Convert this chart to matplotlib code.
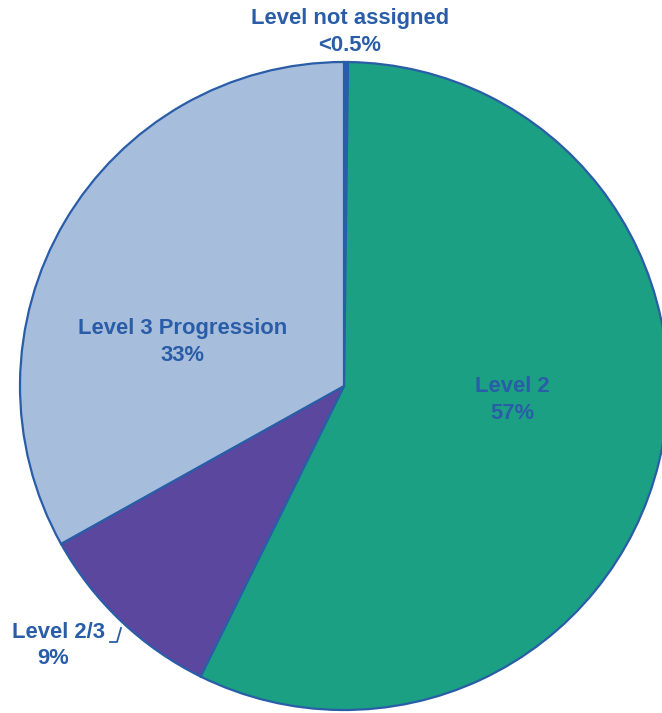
import matplotlib.pyplot as plt

labels = ["Level not assigned", "Level 2", "Level 2/3", "Level 3 Progression"]
values = [0.2, 57.1, 9.6, 33.1]
pct_text = ["<0.5%", "57%", "9%", "33%"]
colors = ["#2A5DA8", "#1BA084", "#5B479D", "#A7BDDC"]
edge = "#2A5DA8"
txt = "#2A5DA8"

plt.rcParams['font.family'] = ['Liberation Sans', 'DejaVu Sans']

fig = plt.figure(figsize=(6.62, 7.13), dpi=100)
ax = fig.add_axes([0, 0, 1, 1])

# pie in pixel coords (y flipped)
ax.pie(values, colors=colors, startangle=90, counterclock=False,
       center=(344, 713 - 386), radius=324, frame=True,
       wedgeprops=dict(edgecolor=edge, linewidth=1.6))
ax.set_xlim(0, 662)
ax.set_ylim(0, 713)
ax.axis('off')

fs = 15.8
ls = 1.35
ax.text(350, 713 - 32, labels[0] + "\n" + pct_text[0], ha='center', va='center',
        color=txt, fontsize=fs, fontweight='bold', linespacing=ls)
ax.text(512, 713 - 400, labels[1] + "\n" + pct_text[1], ha='center', va='center',
        color=txt, fontsize=fs, fontweight='bold', linespacing=ls)
ax.text(183, 713 - 342, labels[3] + "\n" + pct_text[3], ha='center', va='center',
        color=txt, fontsize=fs, fontweight='bold', linespacing=ls)
ax.text(12, 713 - 633, labels[2], ha='left', va='center',
        color=txt, fontsize=fs, fontweight='bold')
ax.text(53, 713 - 659, pct_text[2], ha='center', va='center',
        color=txt, fontsize=fs, fontweight='bold')
# small leader line
ax.plot([110, 117, 121], [713 - 642, 713 - 642, 713 - 628], color=txt, lw=1.3)

fig.savefig("out.png", dpi=100)
